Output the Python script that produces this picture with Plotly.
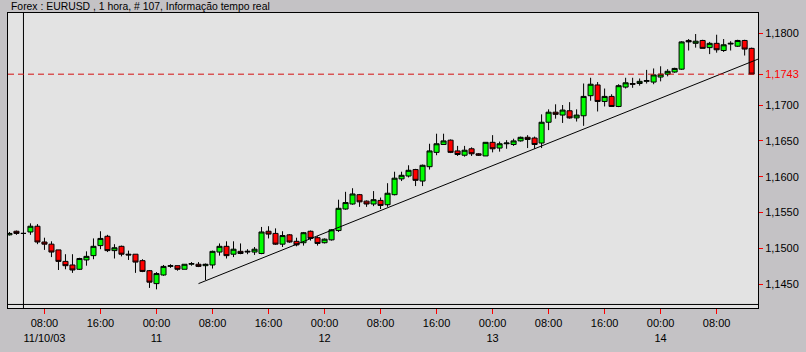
import plotly.graph_objects as go
import pandas as pd

# ---- data (EURUSD, 1 hour bars, 107 bars) ----
times = pd.date_range("2003-11-10 03:00", periods=107, freq="h")

open_ = [
    1.1519, 1.1524, 1.1521, 1.1523, 1.1531, 1.1509, 1.1506, 1.1498, 1.1482, 1.1477,
    1.1471, 1.1484, 1.1490, 1.1504, 1.1517, 1.1497, 1.1503, 1.1492, 1.1492, 1.1483,
    1.1469, 1.1451, 1.1463, 1.1475, 1.1476, 1.1471, 1.1478, 1.1478, 1.1476, 1.1477,
    1.1495, 1.1503, 1.1492, 1.1496, 1.1495, 1.1495, 1.1493, 1.1524, 1.1521, 1.1506,
    1.1519, 1.1510, 1.1508, 1.1524, 1.1515, 1.1508, 1.1512, 1.1525, 1.1555, 1.1562,
    1.1575, 1.1566, 1.1562, 1.1567, 1.1561, 1.1575, 1.1597, 1.1601, 1.1610, 1.1594,
    1.1614, 1.1634, 1.1645, 1.1651, 1.1636, 1.1630, 1.1639, 1.1632, 1.1629, 1.1648,
    1.1640, 1.1646, 1.1645, 1.1650, 1.1655, 1.1654, 1.1647, 1.1676, 1.1690, 1.1686,
    1.1692, 1.1682, 1.1685, 1.1713, 1.1728, 1.1705, 1.1712, 1.1698, 1.1725, 1.1730,
    1.1730, 1.1733, 1.1732, 1.1739, 1.1743, 1.1746, 1.1750, 1.1790, 1.1786, 1.1790,
    1.1780, 1.1786, 1.1776, 1.1785, 1.1782, 1.1790, 1.1779,
]
high = [
    1.1523, 1.1525, 1.1522, 1.1535, 1.1534, 1.1515, 1.1510, 1.1498, 1.1492, 1.1492,
    1.1487, 1.1496, 1.1514, 1.1524, 1.1519, 1.1506, 1.1504, 1.1497, 1.1492, 1.1485,
    1.1470, 1.1467, 1.1477, 1.1478, 1.1476, 1.1478, 1.1481, 1.1481, 1.1479, 1.1497,
    1.1507, 1.1510, 1.1510, 1.1507, 1.1499, 1.1502, 1.1530, 1.1531, 1.1528, 1.1524,
    1.1520, 1.1515, 1.1523, 1.1525, 1.1517, 1.1514, 1.1527, 1.1568, 1.1579, 1.1584,
    1.1576, 1.1567, 1.1580, 1.1571, 1.1591, 1.1607, 1.1607, 1.1616, 1.1611, 1.1617,
    1.1646, 1.1660, 1.1660, 1.1652, 1.1643, 1.1643, 1.1641, 1.1633, 1.1648, 1.1658,
    1.1649, 1.1651, 1.1653, 1.1656, 1.1658, 1.1656, 1.1687, 1.1694, 1.1701, 1.1700,
    1.1704, 1.1694, 1.1730, 1.1738, 1.1732, 1.1723, 1.1715, 1.1729, 1.1738, 1.1738,
    1.1737, 1.1749, 1.1751, 1.1754, 1.1750, 1.1752, 1.1789, 1.1792, 1.1799, 1.1791,
    1.1788, 1.1798, 1.1792, 1.1789, 1.1791, 1.1791, 1.1780,
]
low = [
    1.1518, 1.1519, 1.1520, 1.1519, 1.1506, 1.1498, 1.1488, 1.1470, 1.1471, 1.1466,
    1.1470, 1.1476, 1.1485, 1.1499, 1.1495, 1.1486, 1.1489, 1.1484, 1.1466, 1.1467,
    1.1445, 1.1443, 1.1462, 1.1473, 1.1469, 1.1471, 1.1476, 1.1474, 1.1456, 1.1472,
    1.1490, 1.1486, 1.1488, 1.1492, 1.1492, 1.1491, 1.1492, 1.1514, 1.1505, 1.1502,
    1.1508, 1.1503, 1.1504, 1.1511, 1.1504, 1.1507, 1.1511, 1.1523, 1.1554, 1.1561,
    1.1558, 1.1558, 1.1559, 1.1555, 1.1558, 1.1574, 1.1594, 1.1599, 1.1587, 1.1587,
    1.1610, 1.1630, 1.1645, 1.1633, 1.1629, 1.1628, 1.1629, 1.1629, 1.1629, 1.1634,
    1.1635, 1.1639, 1.1643, 1.1649, 1.1640, 1.1639, 1.1640, 1.1665, 1.1681, 1.1675,
    1.1681, 1.1677, 1.1671, 1.1706, 1.1691, 1.1698, 1.1698, 1.1697, 1.1723, 1.1724,
    1.1727, 1.1730, 1.1729, 1.1733, 1.1740, 1.1745, 1.1749, 1.1776, 1.1780, 1.1779,
    1.1771, 1.1773, 1.1774, 1.1776, 1.1781, 1.1769, 1.1743,
]
close = [
    1.1521, 1.1521, 1.1521, 1.1531, 1.1509, 1.1506, 1.1495, 1.1482, 1.1476, 1.1470,
    1.1486, 1.1489, 1.1503, 1.1514, 1.1497, 1.1501, 1.1492, 1.1491, 1.1481, 1.1468,
    1.1453, 1.1465, 1.1475, 1.1476, 1.1471, 1.1478, 1.1479, 1.1475, 1.1478, 1.1496,
    1.1503, 1.1490, 1.1499, 1.1493, 1.1496, 1.1499, 1.1523, 1.1520, 1.1506, 1.1518,
    1.1509, 1.1505, 1.1522, 1.1514, 1.1507, 1.1513, 1.1526, 1.1556, 1.1564, 1.1576,
    1.1565, 1.1562, 1.1568, 1.1560, 1.1577, 1.1598, 1.1602, 1.1609, 1.1595, 1.1616,
    1.1636, 1.1646, 1.1650, 1.1634, 1.1631, 1.1637, 1.1632, 1.1630, 1.1648, 1.1639,
    1.1646, 1.1647, 1.1650, 1.1655, 1.1652, 1.1645, 1.1676, 1.1690, 1.1687, 1.1693,
    1.1682, 1.1686, 1.1712, 1.1729, 1.1705, 1.1712, 1.1698, 1.1727, 1.1731, 1.1729,
    1.1733, 1.1734, 1.1742, 1.1743, 1.1747, 1.1751, 1.1788, 1.1788, 1.1789, 1.1779,
    1.1786, 1.1777, 1.1784, 1.1786, 1.1790, 1.1778, 1.1743,
]

# trend line (two anchor points)
trend_x = ["2003-11-11 06:00", "2003-11-14 13:55"]
trend_y = [1.1451, 1.1764]

# cursor line and last price
cursor_time = "2003-11-10 05:00"
last_price = 1.1743

# axis ticks
x_tickvals = ["2003-11-10 08:00", "2003-11-10 16:00", "2003-11-11 00:00",
              "2003-11-11 08:00", "2003-11-11 16:00", "2003-11-12 00:00",
              "2003-11-12 08:00", "2003-11-12 16:00", "2003-11-13 00:00",
              "2003-11-13 08:00", "2003-11-13 16:00", "2003-11-14 00:00",
              "2003-11-14 08:00"]
x_ticktext = ["08:00<br>11/10/03", "16:00", "00:00<br>11", "08:00", "16:00",
              "00:00<br>12", "08:00", "16:00", "00:00<br>13", "08:00", "16:00",
              "00:00<br>14", "08:00"]
y_tickvals = [1.1450, 1.1500, 1.1550, 1.1600, 1.1650, 1.1700, 1.1800]

title_text = "Forex : EURUSD , 1 hora, # 107, Informação tempo real"

# ---- styling ----
FONT = "Liberation Sans, Arial, sans-serif"
OUTER_BG = "#C4C2C5"
PLOT_BG = "#E3E3E3"
RED = "#FF0000"
GREEN = "#00FF00"

def fmt(v):
    return f"{v:.4f}".replace(".", ",")

yvals = y_tickvals + [last_price]
ytext = [fmt(v) for v in y_tickvals] + [f'<span style="color:{RED}">{fmt(last_price)}</span>']

fig = go.Figure()
fig.add_trace(go.Candlestick(
    x=times, open=open_, high=high, low=low, close=close,
    increasing=dict(fillcolor=GREEN, line=dict(color="black", width=1)),
    decreasing=dict(fillcolor=RED, line=dict(color="black", width=1)),
    whiskerwidth=0, showlegend=False, hoverinfo="skip",
))
fig.add_trace(go.Scatter(
    x=trend_x, y=trend_y, mode="lines",
    line=dict(color="black", width=1), showlegend=False, hoverinfo="skip",
))

fig.add_shape(type="line", xref="x", yref="paper", x0=cursor_time, x1=cursor_time,
              y0=0, y1=1, line=dict(color="black", width=1))
fig.add_shape(type="line", xref="paper", yref="y", x0=0, x1=1, y0=last_price, y1=last_price,
              line=dict(color="#D41010", width=1, dash="6px,4px"))
fig.add_shape(type="line", xref="paper", yref="paper", x0=0, x1=1, y0=0.012, y1=0.012,
              line=dict(color="black", width=1))

fig.add_annotation(text=title_text, xref="paper", yref="paper", x=0, y=1,
                   xanchor="left", yanchor="middle", xshift=1, yshift=7,
                   showarrow=False, font=dict(family=FONT, size=10.4, color="black"))

fig.update_layout(
    width=806, height=352,
    margin=dict(l=7, r=47, t=13, b=44),
    paper_bgcolor=OUTER_BG, plot_bgcolor=PLOT_BG,
    separators=",.",
    boxgap=0.15, boxgroupgap=0.15,
    font=dict(family=FONT, size=11, color="black"),
    xaxis=dict(
        type="date", range=["2003-11-10 02:47:30", "2003-11-14 13:54:30"],
        rangeslider=dict(visible=False),
        tickvals=x_tickvals, ticktext=x_ticktext,
        ticks="outside", ticklen=5, tickcolor=RED, tickwidth=1,
        showgrid=False, zeroline=False,
        showline=True, linecolor="black", linewidth=1, mirror=True,
        tickfont=dict(family=FONT, size=11, color="black"),
    ),
    yaxis=dict(
        side="right", range=[1.14170, 1.18283],
        tickvals=yvals, ticktext=ytext,
        ticks="outside", ticklen=4, tickcolor=RED, tickwidth=1,
        showgrid=False, zeroline=False,
        showline=True, linecolor="black", linewidth=1, mirror=True,
        tickfont=dict(family=FONT, size=11, color="black"),
    ),
)

fig.write_html("out.html")
